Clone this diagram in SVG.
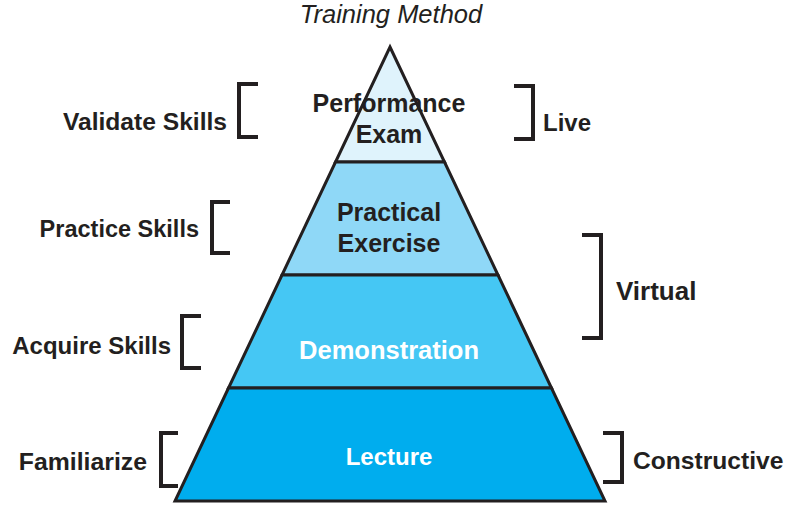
<svg xmlns="http://www.w3.org/2000/svg" width="796" height="505" viewBox="0 0 796 505">
<style>
.lbl{font-family:"Liberation Sans",Arial,sans-serif;font-weight:bold;font-size:24px;fill:#231f20}
.in{font-family:"Liberation Sans",Arial,sans-serif;font-weight:bold;font-size:25px;text-anchor:middle}
.dark{fill:#231f20}
.white{fill:#ffffff}
.layer{stroke:#231f20;stroke-width:3;stroke-linejoin:miter}
.br{fill:none;stroke:#231f20;stroke-width:4;stroke-linecap:butt}
</style>
<rect width="796" height="505" fill="#ffffff"/>
<text x="391" y="23" text-anchor="middle" style="font-family:'Liberation Sans',Arial,sans-serif;font-style:italic;font-size:25.5px;fill:#231f20">Training Method</text>
<g id="layer-performance">
<polygon class="layer" points="390,47 444.5,162 335.5,162" fill="#dff3fc"/>
<text class="in dark" x="389" y="112">Performance</text>
<text class="in dark" x="389" y="143">Exam</text>
</g>
<g id="layer-practical">
<polygon class="layer" points="335.5,162 444.5,162 498,275 282,275" fill="#8fd8f7"/>
<text class="in dark" x="389" y="221">Practical</text>
<text class="in dark" x="389" y="252">Exercise</text>
</g>
<g id="layer-demonstration">
<polygon class="layer" points="282,275 498,275 551.5,388 228.5,388" fill="#45c7f4"/>
<text class="in white" x="389" y="359" style="font-size:25.5px">Demonstration</text>
</g>
<g id="layer-lecture">
<polygon class="layer" points="228.5,388 551.5,388 605,501 175,501" fill="#00adee"/>
<text class="in white" x="389" y="465" style="font-size:24px">Lecture</text>
</g>
<g id="brackets">
<polyline class="br" points="258,84 239,84 239,137 258,137"/>
<polyline class="br" points="514,86 533,86 533,139 514,139"/>
<polyline class="br" points="230,202 212,202 212,253 230,253"/>
<polyline class="br" points="582,235 601,235 601,338 582,338"/>
<polyline class="br" points="201,316 182,316 182,368 201,368"/>
<polyline class="br" points="178,433 161,433 161,486 178,486"/>
<polyline class="br" points="603,433 622,433 622,482 603,482"/>
</g>
<g id="left-labels">
<text class="lbl" x="227" y="130" text-anchor="end" style="font-size:24.6px">Validate Skills</text>
<text class="lbl" x="199" y="237" text-anchor="end" style="font-size:23.5px">Practice Skills</text>
<text class="lbl" x="171" y="354" text-anchor="end">Acquire Skills</text>
<text class="lbl" x="147" y="470" text-anchor="end" style="font-size:24.8px">Familiarize</text>
</g>
<g id="right-labels">
<text class="lbl" x="543" y="131">Live</text>
<text class="lbl" x="616" y="300" style="font-size:26px">Virtual</text>
<text class="lbl" x="633" y="469" style="font-size:24.6px">Constructive</text>
</g>
</svg>
